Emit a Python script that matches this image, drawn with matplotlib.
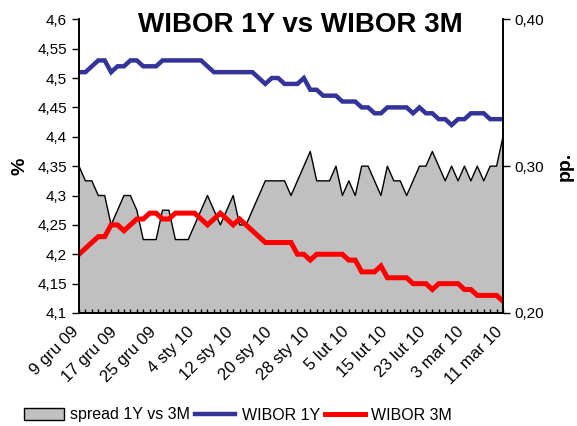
import matplotlib
matplotlib.use("Agg")
import matplotlib.pyplot as plt
import matplotlib.ticker as ticker
import matplotlib.transforms as mtransforms
from matplotlib.patches import Patch
from matplotlib.lines import Line2D

plt.rcParams['font.family'] = ['Liberation Sans', 'DejaVu Sans']

# one label every 6 sessions (business days)
date_labels = ["9 gru 09", "17 gru 09", "25 gru 09", "4 sty 10", "12 sty 10",
               "20 sty 10", "28 sty 10", "5 lut 10", "15 lut 10", "23 lut 10",
               "3 mar 10", "11 mar 10"]

wibor_1y = [4.51, 4.51, 4.52, 4.53, 4.53, 4.51, 4.52, 4.52, 4.53, 4.53,
            4.52, 4.52, 4.52, 4.53, 4.53, 4.53, 4.53, 4.53, 4.53, 4.53,
            4.52, 4.51, 4.51, 4.51, 4.51, 4.51, 4.51, 4.51, 4.50, 4.49,
            4.50, 4.50, 4.49, 4.49, 4.49, 4.50, 4.48, 4.48, 4.47, 4.47,
            4.47, 4.46, 4.46, 4.46, 4.45, 4.45, 4.44, 4.44, 4.45, 4.45,
            4.45, 4.45, 4.44, 4.45, 4.44, 4.44, 4.43, 4.43, 4.42, 4.43,
            4.43, 4.44, 4.44, 4.44, 4.43, 4.43, 4.43]

wibor_3m = [4.20, 4.21, 4.22, 4.23, 4.23, 4.25, 4.25, 4.24, 4.25, 4.26,
            4.26, 4.27, 4.27, 4.26, 4.26, 4.27, 4.27, 4.27, 4.27, 4.26,
            4.25, 4.26, 4.27, 4.26, 4.25, 4.26, 4.25, 4.24, 4.23, 4.22,
            4.22, 4.22, 4.22, 4.22, 4.20, 4.20, 4.19, 4.20, 4.20, 4.20,
            4.20, 4.20, 4.19, 4.19, 4.17, 4.17, 4.17, 4.18, 4.16, 4.16,
            4.16, 4.16, 4.15, 4.15, 4.15, 4.14, 4.15, 4.15, 4.15, 4.15,
            4.14, 4.14, 4.13, 4.13, 4.13, 4.13, 4.12]

spread = [0.30, 0.29, 0.29, 0.28, 0.28, 0.26, 0.27, 0.28, 0.28, 0.27,
          0.25, 0.25, 0.25, 0.27, 0.27, 0.25, 0.25, 0.25, 0.26, 0.27,
          0.28, 0.27, 0.26, 0.27, 0.28, 0.26, 0.26, 0.27, 0.28, 0.29,
          0.29, 0.29, 0.29, 0.28, 0.29, 0.30, 0.31, 0.29, 0.29, 0.29,
          0.30, 0.28, 0.29, 0.28, 0.30, 0.30, 0.29, 0.28, 0.30, 0.29,
          0.29, 0.28, 0.29, 0.30, 0.30, 0.31, 0.30, 0.29, 0.30, 0.29,
          0.30, 0.29, 0.30, 0.29, 0.30, 0.30, 0.32]

x = list(range(len(wibor_1y)))

fig = plt.figure(figsize=(5.77, 4.26), dpi=100)
ax = fig.add_axes([79 / 577, 1 - 313 / 426, 424 / 577, 293.7 / 426])
ax2 = ax.twinx()

# spread as grey area on the right axis, behind the lines
ax2.fill_between(x, 0.20, spread, facecolor="#C0C0C0", edgecolor="none")
ax2.plot(x, spread, color="black", linewidth=1)
ax2.set_ylim(0.20, 0.40)
ax2.set_yticks([0.20, 0.30, 0.40])
ax2.yaxis.set_major_formatter(ticker.FuncFormatter(lambda v, p: f"{v:.2f}".replace(".", ",")))

ax.plot(x, wibor_1y, color="#333399", linewidth=3.2, solid_joinstyle="miter")
ax.plot(x, wibor_3m, color="#FF0000", linewidth=3.6, solid_joinstyle="miter")
ax.set_ylim(4.1, 4.6)
ax.set_yticks([4.1 + 0.05 * k for k in range(11)])
ax.yaxis.set_major_formatter(ticker.FuncFormatter(lambda v, p: f"{v:.2f}".rstrip("0").replace(".", ",")))
ax.set_zorder(ax2.get_zorder() + 1)
ax.patch.set_visible(False)

ax.set_xlim(0, len(x) - 1)
ax.set_xticks(range(0, len(x), 6))
ax.set_xticklabels(date_labels, rotation=45, ha="right", rotation_mode="anchor")
ax.set_xticks(x, minor=True)
ax.tick_params(axis="x", which="both", direction="in", length=3, width=1, pad=8, labelsize=12)
ax.tick_params(axis="y", direction="out", length=5, width=1, labelsize=11)
ax2.tick_params(axis="y", direction="out", length=5, width=1, labelsize=11)

# nudge the slanted date labels a little to the left, as in the original
shift = mtransforms.ScaledTranslation(-8 / 100, 0, fig.dpi_scale_trans)
for lbl in ax.get_xticklabels():
    lbl.set_transform(lbl.get_transform() + shift)

for a in (ax, ax2):
    a.spines["top"].set_visible(False)
    for s in ("left", "right", "bottom"):
        a.spines[s].set_linewidth(1.2)

fig.text(300 / 577, 1 - 32 / 426, "WIBOR 1Y vs WIBOR 3M", ha="center", va="baseline",
         fontsize=20, fontweight="bold")
fig.text(20 / 577, 1 - 166 / 426, "%", rotation=90, ha="center", va="center",
         fontsize=14, fontweight="bold")
fig.text(565 / 577, 1 - 166 / 426, "pp.", rotation=90, ha="center", va="center",
         fontsize=14, fontweight="bold")

handles = [Patch(facecolor="#C0C0C0", edgecolor="black", linewidth=1),
           Line2D([], [], color="#333399", linewidth=3.2),
           Line2D([], [], color="#FF0000", linewidth=3.6)]
fig.legend(handles, ["spread 1Y vs 3M", "WIBOR 1Y", "WIBOR 3M"], ncol=3,
           loc="center", bbox_to_anchor=(238 / 577, 1 - 415 / 426), frameon=False,
           fontsize=11.5, handlelength=2.5, handleheight=0.7, handletextpad=0.4,
           columnspacing=0.3, borderaxespad=0)

fig.savefig("out.png", dpi=100)
